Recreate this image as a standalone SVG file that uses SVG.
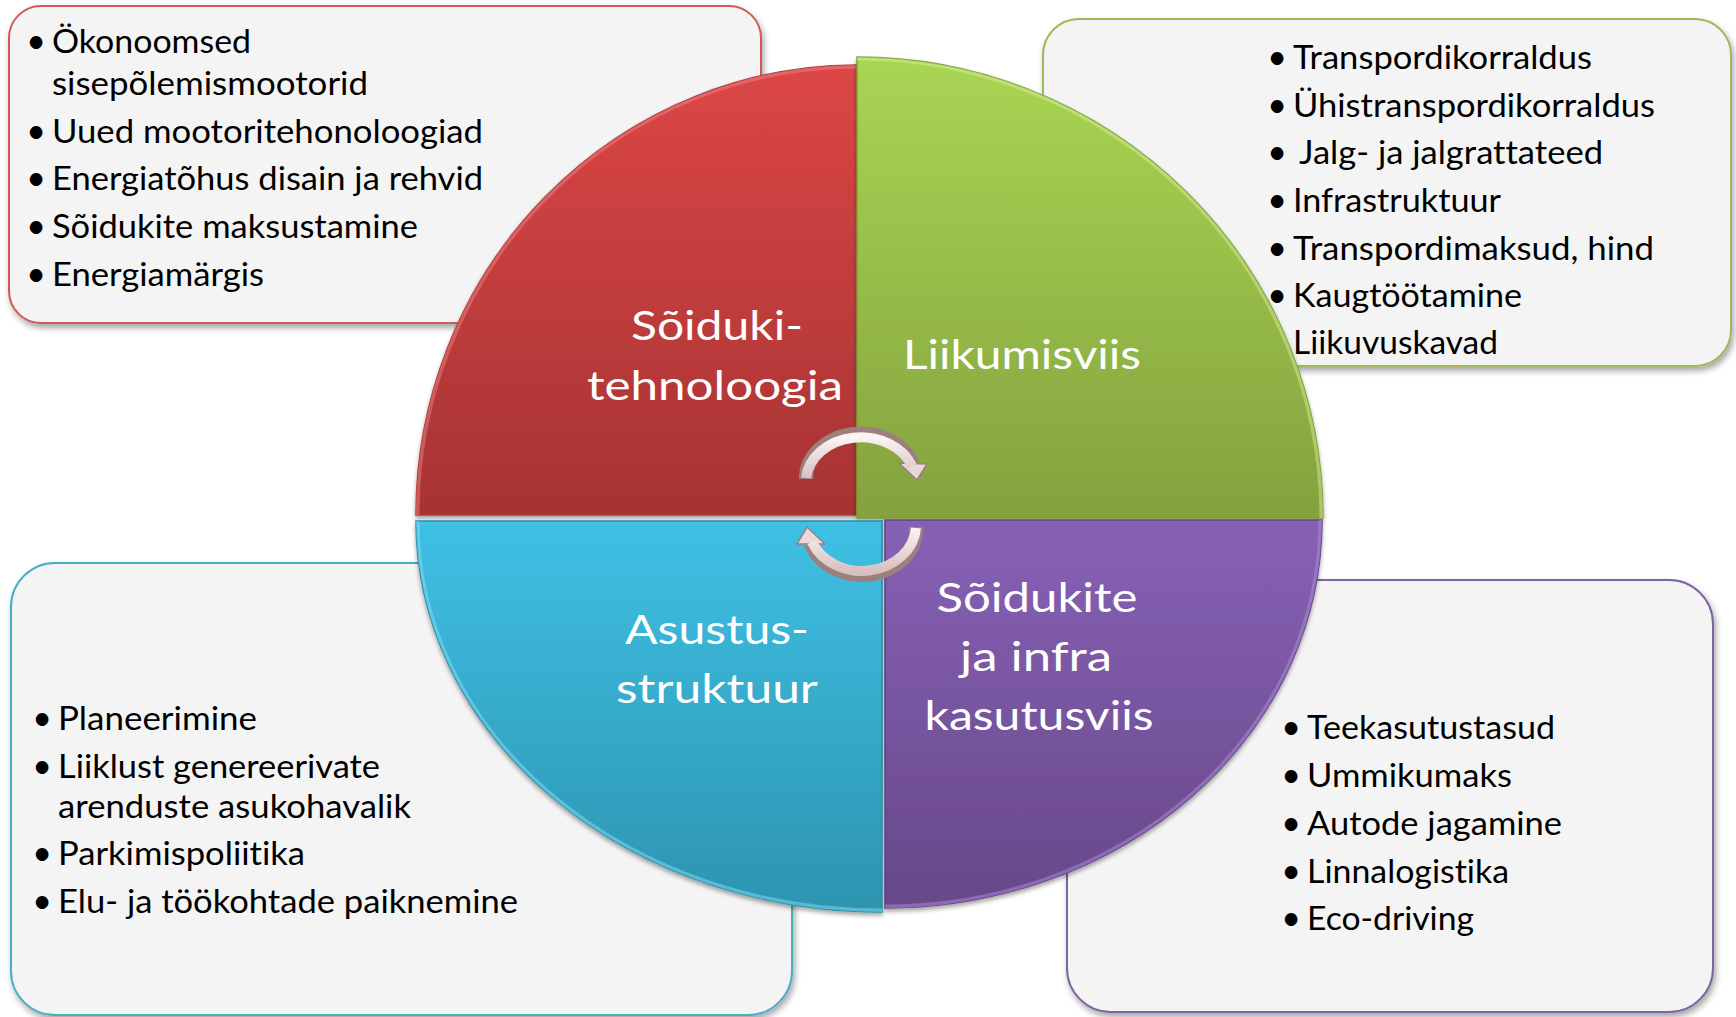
<svg xmlns="http://www.w3.org/2000/svg" width="1736" height="1017" viewBox="0 0 1736 1017">
  <defs>
    <filter id="shadow" x="-10%" y="-10%" width="120%" height="120%">
      <feDropShadow dx="2" dy="4" stdDeviation="3" flood-color="#000" flood-opacity="0.35"/>
    </filter>
    <filter id="pshadow" x="-10%" y="-10%" width="120%" height="120%">
      <feDropShadow dx="0" dy="3" stdDeviation="2" flood-color="#000" flood-opacity="0.35"/>
    </filter>
    <linearGradient id="gRed" x1="0" y1="0" x2="0" y2="1">
      <stop offset="0" stop-color="#dc4646"/>
      <stop offset="1" stop-color="#a63333"/>
    </linearGradient>
    <linearGradient id="gGreen" x1="0" y1="0" x2="0" y2="1">
      <stop offset="0" stop-color="#a9d553"/>
      <stop offset="1" stop-color="#84a23e"/>
    </linearGradient>
    <linearGradient id="gBlue" x1="0" y1="0" x2="0" y2="1">
      <stop offset="0" stop-color="#3fc0e5"/>
      <stop offset="1" stop-color="#2d94b0"/>
    </linearGradient>
    <linearGradient id="gPurple" x1="0" y1="0" x2="0" y2="1">
      <stop offset="0" stop-color="#8761b6"/>
      <stop offset="1" stop-color="#674889"/>
    </linearGradient>
    <linearGradient id="gArrow" x1="0" y1="0" x2="0" y2="1">
      <stop offset="0" stop-color="#fbf3f3"/>
      <stop offset="1" stop-color="#d9c0c0"/>
    </linearGradient>
    <clipPath id="cRed"><path d="M 857 515 L 416 515 A 441 450 0 0 1 857 65 Z"/></clipPath>
    <clipPath id="cGreen"><path d="M 857 518 L 857 57 A 466 461 0 0 1 1323 518 Z"/></clipPath>
    <clipPath id="cPurple"><path d="M 885 520 L 1322 520 A 437 388 0 0 1 885 908 Z"/></clipPath>
    <clipPath id="cBlue"><path d="M 882 521 L 882 912 A 466 391 0 0 1 416 521 Z"/></clipPath>
  </defs>
  <style>
    .box { fill: #f4f4f4; stroke-width: 2; filter: url(#shadow); }
    .txt { font-family: Lato, "Open Sans", sans-serif; font-size: 32px; fill: #000; font-variant-ligatures: none; }
    .bul { font-family: Lato, "Open Sans", sans-serif; font-size: 34px; fill: #000; text-anchor: middle; }
    .lbl { font-family: Lato, "Open Sans", sans-serif; font-size: 41px; fill: #fff; text-anchor: middle; font-variant-ligatures: none; }
    .seg { filter: url(#pshadow); stroke-width: 1.5; }
    .bevel { fill: none; stroke-width: 7; stroke-opacity: 0.45; }
    .arrOut { fill: none; stroke: #9e7f7f; stroke-width: 14; }
    .arrIn { fill: none; stroke: url(#gArrow); stroke-width: 10; }
    .arrHead { fill: #ead8d8; stroke: #9e7f7f; stroke-width: 1.5; stroke-linejoin: round; }
  </style>

  <!-- Text boxes -->
  <g id="box-vehicle-tech">
    <rect class="box" x="9" y="6" width="752" height="317" rx="32" stroke="#cd5b58"/>
  </g>
  <g id="box-mobility">
    <rect class="box" x="1043" y="19" width="688" height="347" rx="36" stroke="#9bbb59"/>
  </g>
  <g id="box-settlement">
    <rect class="box" x="11" y="563" width="781" height="452" rx="44" stroke="#4bacc6"/>
  </g>
  <g id="box-usage">
    <rect class="box" x="1067" y="580" width="646" height="432" rx="44" stroke="#8064a2"/>
  </g>

  <!-- Pie segments -->
  <g id="seg-vehicle-tech">
    <path class="seg" d="M 857 515 L 416 515 A 441 450 0 0 1 857 65 Z" fill="url(#gRed)" stroke="#b23a3a"/>
    <path class="bevel" clip-path="url(#cRed)" d="M 416 515 A 441 450 0 0 1 857 65" stroke="#f08a8a"/>
    <text class="lbl" x="717" y="340" textLength="172" lengthAdjust="spacingAndGlyphs">Sõiduki-</text>
    <text class="lbl" x="715" y="400" textLength="256" lengthAdjust="spacingAndGlyphs">tehnoloogia</text>
  </g>
  <g id="seg-mobility">
    <path class="seg" d="M 857 518 L 857 57 A 466 461 0 0 1 1323 518 Z" fill="url(#gGreen)" stroke="#7f9c3a"/>
    <path class="bevel" clip-path="url(#cGreen)" d="M 857 57 A 466 461 0 0 1 1323 518" stroke="#d8f59a"/>
    <text class="lbl" x="1022" y="369" textLength="238" lengthAdjust="spacingAndGlyphs">Liikumisviis</text>
  </g>
  <g id="seg-usage">
    <path class="seg" d="M 885 520 L 1322 520 A 437 388 0 0 1 885 908 Z" fill="url(#gPurple)" stroke="#634585"/>
    <path class="bevel" clip-path="url(#cPurple)" d="M 1322 520 A 437 388 0 0 1 885 908" stroke="#b595e0"/>
    <text class="lbl" x="1037" y="612" textLength="201" lengthAdjust="spacingAndGlyphs">Sõidukite</text>
    <text class="lbl" x="1036" y="671" textLength="152" lengthAdjust="spacingAndGlyphs">ja infra</text>
    <text class="lbl" x="1039" y="730" textLength="229" lengthAdjust="spacingAndGlyphs">kasutusviis</text>
  </g>
  <g id="seg-settlement">
    <path class="seg" d="M 882 521 L 882 912 A 466 391 0 0 1 416 521 Z" fill="url(#gBlue)" stroke="#2a8aa5"/>
    <path class="bevel" clip-path="url(#cBlue)" d="M 882 912 A 466 391 0 0 1 416 521" stroke="#8fe4fb"/>
    <text class="lbl" x="717" y="644" textLength="184" lengthAdjust="spacingAndGlyphs">Asustus-</text>
    <text class="lbl" x="717" y="703" textLength="202" lengthAdjust="spacingAndGlyphs">struktuur</text>
  </g>

  <!-- Connectors: circular arrows -->
  <g id="connectors">
    <g id="arrow-top">
      <path class="arrOut" d="M 806 479 A 55 45 0 0 1 913 464"/>
      <polygon class="arrHead" points="899,463 927,464 917,480"/>
      <path class="arrIn" d="M 806 478 A 55 45 0 0 1 912 466"/>
    </g>
    <g id="arrow-bottom">
      <path class="arrOut" d="M 916 527 A 54 46 0 0 1 811 544"/>
      <polygon class="arrHead" points="797,544 825,544 807,527"/>
      <path class="arrIn" d="M 916 528 A 54 46 0 0 1 812 542"/>
    </g>
  </g>

  <!-- Box texts -->
  <g id="text-vehicle-tech">
    <text class="bul" x="36" y="53">•</text>
    <text class="txt" x="52" y="53" textLength="199" lengthAdjust="spacingAndGlyphs">Ökonoomsed</text>
    <text class="txt" x="52" y="95" textLength="316" lengthAdjust="spacingAndGlyphs">sisepõlemismootorid</text>
    <text class="bul" x="36" y="143">•</text>
    <text class="txt" x="52" y="143" textLength="431" lengthAdjust="spacingAndGlyphs">Uued mootoritehonoloogiad</text>
    <text class="bul" x="36" y="190">•</text>
    <text class="txt" x="52" y="190" textLength="431" lengthAdjust="spacingAndGlyphs">Energiatõhus disain ja rehvid</text>
    <text class="bul" x="36" y="238">•</text>
    <text class="txt" x="52" y="238" textLength="366" lengthAdjust="spacingAndGlyphs">Sõidukite maksustamine</text>
    <text class="bul" x="36" y="286">•</text>
    <text class="txt" x="52" y="286" textLength="212" lengthAdjust="spacingAndGlyphs">Energiamärgis</text>
  </g>
  <g id="text-mobility">
    <text class="bul" x="1277" y="69">•</text>
    <text class="txt" x="1293" y="69" textLength="299" lengthAdjust="spacingAndGlyphs">Transpordikorraldus</text>
    <text class="bul" x="1277" y="117">•</text>
    <text class="txt" x="1293" y="117" textLength="362" lengthAdjust="spacingAndGlyphs">Ühistranspordikorraldus</text>
    <text class="bul" x="1277" y="164">•</text>
    <text class="txt" x="1299" y="164" textLength="304" lengthAdjust="spacingAndGlyphs">Jalg- ja jalgrattateed</text>
    <text class="bul" x="1277" y="212">•</text>
    <text class="txt" x="1293" y="212" textLength="208" lengthAdjust="spacingAndGlyphs">Infrastruktuur</text>
    <text class="bul" x="1277" y="260">•</text>
    <text class="txt" x="1293" y="260" textLength="361" lengthAdjust="spacingAndGlyphs">Transpordimaksud, hind</text>
    <text class="bul" x="1277" y="307">•</text>
    <text class="txt" x="1293" y="307" textLength="229" lengthAdjust="spacingAndGlyphs">Kaugtöötamine</text>
    <text class="txt" x="1293" y="354" textLength="205" lengthAdjust="spacingAndGlyphs">Liikuvuskavad</text>
  </g>
  <g id="text-settlement">
    <text class="bul" x="42" y="730">•</text>
    <text class="txt" x="58" y="730" textLength="199" lengthAdjust="spacingAndGlyphs">Planeerimine</text>
    <text class="bul" x="42" y="778">•</text>
    <text class="txt" x="58" y="778" textLength="322" lengthAdjust="spacingAndGlyphs">Liiklust genereerivate</text>
    <text class="txt" x="58" y="818" textLength="353" lengthAdjust="spacingAndGlyphs">arenduste asukohavalik</text>
    <text class="bul" x="42" y="865">•</text>
    <text class="txt" x="58" y="865" textLength="247" lengthAdjust="spacingAndGlyphs">Parkimispoliitika</text>
    <text class="bul" x="42" y="913">•</text>
    <text class="txt" x="58" y="913" textLength="460" lengthAdjust="spacingAndGlyphs">Elu- ja töökohtade paiknemine</text>
  </g>
  <g id="text-usage">
    <text class="bul" x="1291" y="739">•</text>
    <text class="txt" x="1307" y="739" textLength="248" lengthAdjust="spacingAndGlyphs">Teekasutustasud</text>
    <text class="bul" x="1291" y="787">•</text>
    <text class="txt" x="1307" y="787" textLength="205" lengthAdjust="spacingAndGlyphs">Ummikumaks</text>
    <text class="bul" x="1291" y="835">•</text>
    <text class="txt" x="1307" y="835" textLength="255" lengthAdjust="spacingAndGlyphs">Autode jagamine</text>
    <text class="bul" x="1291" y="883">•</text>
    <text class="txt" x="1307" y="883" textLength="202" lengthAdjust="spacingAndGlyphs">Linnalogistika</text>
    <text class="bul" x="1291" y="930">•</text>
    <text class="txt" x="1307" y="930" textLength="167" lengthAdjust="spacingAndGlyphs">Eco-driving</text>
  </g>
</svg>
